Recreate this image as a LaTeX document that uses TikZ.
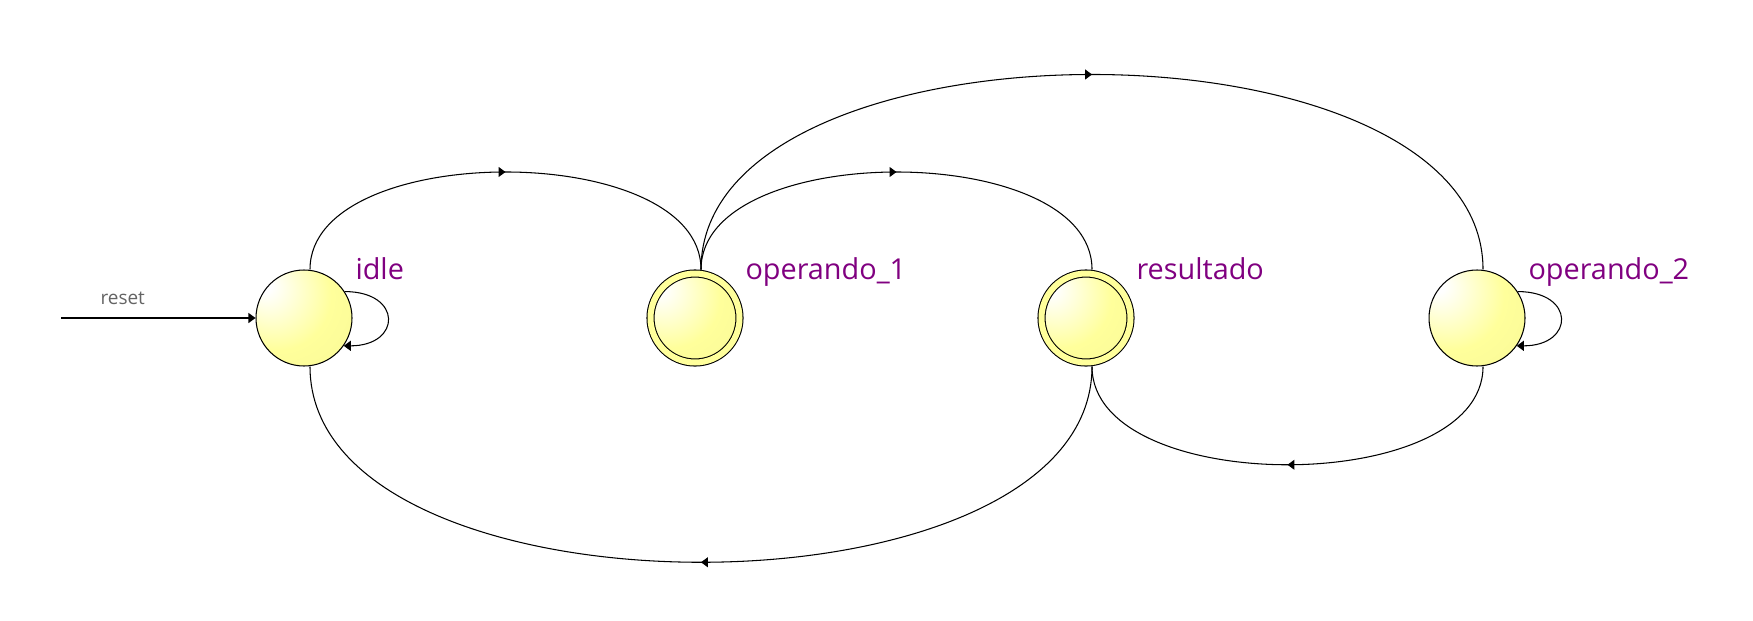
\documentclass[tikz,border=0pt]{standalone}
\usepackage{fontspec}
\setmainfont{Open Sans}
\usetikzlibrary{positioning,arrows.meta,decorations.markings}
\definecolor{amarelo}{RGB}{255,255,155}
\definecolor{roxo}{RGB}{128,0,128}
\definecolor{cinza}{RGB}{100,100,100}
\pgfdeclareradialshading{bola}{\pgfpoint{-22bp}{18bp}}{color(0bp)=(white); color(4bp)=(white); color(28bp)=(amarelo); color(75bp)=(amarelo!94!black)}

\begin{document}
\begin{tikzpicture}[->, >={Triangle[length=0.07cm,width=0.1cm]}, line width=0.3pt, node distance=3.91cm,
	estado/.style={circle, draw, shading=bola, minimum size=0.96cm, inner sep=0pt},
	final/.style={estado, minimum size=0.89cm, double=amarelo, double distance=0.06cm, outer sep=0.04cm},
	nome/.style={anchor=base west, inner sep=0pt, text=roxo, font=\fontsize{8.2}{9.8}\selectfont},
	meio/.style={-, postaction={decorate}, decoration={markings, mark=at position 0.5 with {\arrow{>}}}}]
					\useasboundingbox (0,0) rectangle (17.53,6.20);
					\node [estado] (idle) at (3.04,3.02) {};
					\node [final] (operando1) [right of=idle] {};
					\node [final] (resultado) [right of=operando1] {};
					\node [estado] (operando2) [right of=resultado] {};
					\node [nome] (nidle) at ([xshift=0.51cm,yshift=0.39cm]idle.center) {idle};
					\node [nome] (noperando1) at ([xshift=0.50cm,yshift=0.39cm]operando1.center) {operando\_1};
					\node [nome] (nresultado) at ([xshift=0.50cm,yshift=0.39cm]resultado.center) {resultado};
					\node [nome] (noperando2) at ([xshift=0.51cm,yshift=0.39cm]operando2.center) {operando\_2};
					\coordinate (entrada) at (0.61,3.02);
					\node [anchor=base west, inner sep=0pt, text=cinza, font=\fontsize{5.4}{6.5}\selectfont] (nreset) at (1.00,3.16) {reset};
					\draw (entrada) -- (idle);
					\draw (idle.33) .. controls +(0.58,0) and +(0.58,0) .. (idle.-35);
					\draw (operando2.33) .. controls +(0.58,0) and +(0.58,0) .. (operando2.-35);
					\draw [meio] ([xshift=0.06cm]idle.north) .. controls +(0,1.30) and +(0,1.30) .. ([xshift=0.06cm]operando1.north);
					\draw [meio] ([xshift=0.06cm]operando1.north) .. controls +(0,1.30) and +(0,1.30) .. ([xshift=0.06cm]resultado.north);
					\draw [meio] ([xshift=0.06cm]operando1.north) .. controls +(0,2.60) and +(0,2.60) .. ([xshift=0.06cm]operando2.north);
					\draw [meio] ([xshift=0.06cm]resultado.south) .. controls +(0,-2.61) and +(0,-2.61) .. ([xshift=0.06cm]idle.south);
					\draw [meio] ([xshift=0.06cm]operando2.south) .. controls +(0,-1.31) and +(0,-1.31) .. ([xshift=0.06cm]resultado.south);
				\end{tikzpicture}
\end{document}
